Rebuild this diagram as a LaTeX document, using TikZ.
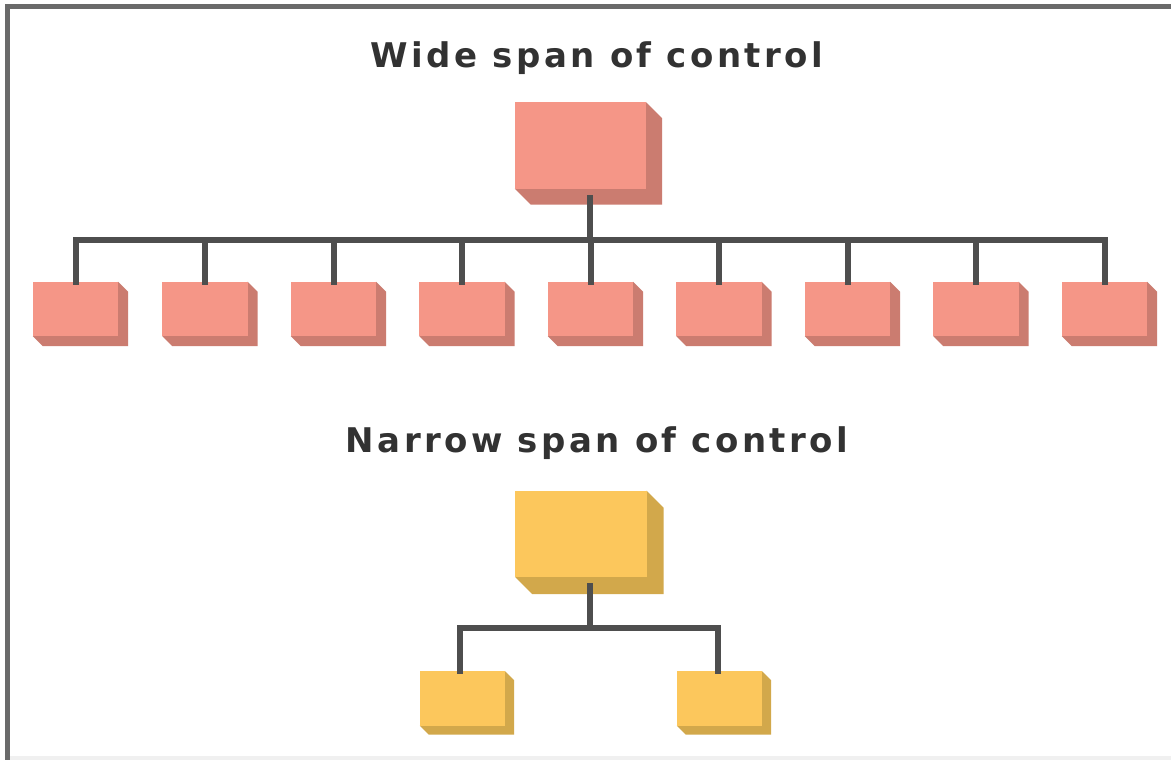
\documentclass[tikz,border=0pt]{standalone}
\usepackage{fontspec}
\setmainfont{DejaVu Sans}
\newfontfamily\titlefont[LetterSpace=10]{DejaVu Sans Bold}
\definecolor{cSalmon}{RGB}{245,150,135}
\definecolor{cSalmonSide}{RGB}{203,124,112}
\definecolor{cAmber}{RGB}{252,199,92}
\definecolor{cAmberSide}{RGB}{210,168,75}
\definecolor{cLine}{RGB}{78,78,78}
\definecolor{cFrame}{RGB}{106,106,106}
\definecolor{cStrip}{RGB}{240,240,240}
\definecolor{cText}{RGB}{50,50,50}
\newcommand{\xbox}[4]{% name, side colour, depth, front colour
  \fill[#2] (#1.north east) -- ++(#3,#3) -- ([xshift=#3pt,yshift=-#3pt]#1.south east) -- ([xshift=#3pt,yshift=-#3pt]#1.south west) -- (#1.south west) -- cycle;
  \fill[#4] (#1.north west) rectangle (#1.south east);
}
\begin{document}
\begin{tikzpicture}[x=1pt,y=-1pt,
  bigbox/.style={rectangle,inner sep=0,minimum width=131pt,minimum height=86pt},
  smallbox/.style={rectangle,inner sep=0,minimum width=85pt,minimum height=54pt},
  conn/.style={draw=cLine,line width=6pt,line cap=rect,line join=miter},
  title/.style={font=\titlefont\fontsize{34}{37}\selectfont,text=cText,anchor=base,inner sep=0}]
\useasboundingbox (0,0) rectangle (1171,760);
\fill[white] (0,0) rectangle (1171,760);
% frame
\fill[cFrame] (5,4) rectangle (1171,9);
\fill[cFrame] (5,4) rectangle (10,760);
\fill[cStrip] (10,756) rectangle (1171,760);
% titles
\node[title] (t1) at (597,67) {Wide span of control};
\node[title] (t2) at (597,452) {Narrow span of control};
% wide span
\node[bigbox] (w0) at (580.5,145.5) {};
\xbox{w0}{cSalmonSide}{16}{cSalmon}
\foreach \i/\x in {1/75.5,2/205,3/333.5,4/462,5/590.5,6/719,7/847.5,8/976,9/1104.5}{
  \node[smallbox] (w\i) at (\x,309) {};
  \xbox{w\i}{cSalmonSide}{10}{cSalmon}
}
\coordinate (wbus) at (590,240);
\draw[conn] ([xshift=9.5pt,yshift=-9pt]w0.south) -- ([xshift=9.5pt]w0.south |- wbus);
\draw[conn] (w1.north) -- (w1.north |- wbus) -- (w9.north |- wbus) -- (w9.north);
\foreach \i in {2,...,8}{
  \draw[conn] (w\i.north) -- (w\i.north |- wbus);
}
% narrow span
\node[bigbox] (n0) at (581,534) {};
\xbox{n0}{cAmberSide}{17}{cAmber}
\node[smallbox] (n1) at (462.5,698.5) {};
\xbox{n1}{cAmberSide}{9}{cAmber}
\node[smallbox] (n2) at (719.5,698.5) {};
\xbox{n2}{cAmberSide}{9}{cAmber}
\coordinate (nbus) at (590,628);
\draw[conn] ([xshift=9pt,yshift=-9pt]n0.south) -- ([xshift=9pt]n0.south |- nbus);
\draw[conn] ([xshift=-2.5pt]n1.north) -- ([xshift=-2.5pt]n1.north |- nbus) -- ([xshift=-1.5pt]n2.north |- nbus) -- ([xshift=-1.5pt]n2.north);
\end{tikzpicture}
\end{document}
